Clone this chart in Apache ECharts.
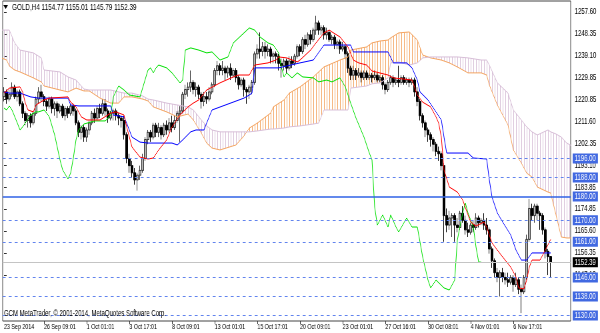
<!DOCTYPE html>
<html><head><meta charset="utf-8">
<script src="https://cdn.jsdelivr.net/npm/echarts@6/dist/echarts.min.js"></script>
<style>
html,body{margin:0;padding:0;background:#fff;overflow:hidden;}
#wrap{width:600px;height:333px;overflow:hidden;}
#chart{width:900px;height:333px;transform:scaleX(0.6666667);transform-origin:0 0;}
</style></head><body><div id="wrap"><div id="chart"></div></div>
<script>
const FONT = '"Liberation Sans", Arial, sans-serif';
const SLOTS = 213;
const tickIdx = [0,15,31,47,63,79,95,111,127,143,159,175,191];
const tickText = ['23 Sep 2014','26 Sep 09:01','1 Oct 01:01','3 Oct 17:01','8 Oct 09:01','13 Oct 01:01','15 Oct 17:01','20 Oct 09:01','23 Oct 01:01','27 Oct 16:01','30 Oct 08:01','4 Nov 01:01','6 Nov 17:01'];
const yTicks = [1257.60,1248.35,1239.10,1229.85,1220.85,1211.60,1202.35,1193.10,1183.85,1174.85,1165.60,1156.35,1147.10];
const dashedLevels = [1196,1188,1170,1161,1146,1138,1130];
const solidLevel = 1180;
const bidPrice = 1152.39;
const header = 'GOLD,H4 1154.77 1155.01 1145.79 1152.39';
const copyright = 'GCM MetaTrader, \u00a9 2001-2014, MetaQuotes Software Corp.';

// [open, close, low, high]
const ohlc = [
[1222,1224,1220,1226],[1224,1221,1219,1225],[1221,1223,1220,1225],[1223,1226,1222,1228],[1226,1222,1221,1227],
[1222,1224,1220,1225],[1224,1219,1218,1225],[1219,1215,1213,1220],[1215,1212,1210,1216],[1212,1214,1209,1215],
[1214,1211,1209,1215],[1211,1215,1210,1216],[1215,1221,1214,1222],[1221,1224,1219,1226],[1224,1222,1220,1227],
[1222,1220,1218,1223],[1220,1218,1216,1221],[1218,1221,1217,1222],[1221,1217,1215,1222],[1217,1219,1214,1220],
[1219,1216,1213,1220],[1216,1218,1215,1219],[1218,1214,1213,1219],[1214,1217,1212,1218],[1217,1215,1213,1218],
[1215,1218,1214,1219],[1218,1216,1214,1219],[1216,1211,1210,1217],[1211,1207,1205,1212],[1207,1209,1204,1210],
[1209,1205,1203,1210],[1205,1208,1203,1209],[1208,1211,1206,1212],[1211,1215,1210,1216],[1215,1213,1211,1217],
[1213,1217,1212,1218],[1217,1215,1213,1219],[1215,1219,1214,1221],[1219,1216,1214,1221],[1216,1213,1211,1217],
[1213,1215,1212,1216],[1215,1216,1212,1217],[1216,1214,1212,1217],[1214,1213,1210,1215],[1213,1212,1209,1214],
[1212,1206,1204,1214],[1206,1196,1194,1207],[1196,1193,1190,1198],[1193,1190,1188,1195],[1190,1187,1185,1192],
[1187,1189,1182.5,1190],[1189,1191,1187,1193],[1191,1196,1190,1198],[1196,1204,1195,1205],[1204,1207,1202,1208],
[1207,1205,1203,1208],[1205,1210,1204,1211],[1210,1207,1205,1211],[1207,1209,1205,1211],[1209,1206,1204,1210],
[1206,1210,1205,1211],[1210,1208,1206,1212],[1208,1211,1207,1213],[1211,1209,1207,1214],[1209,1212,1208,1214],
[1212,1215,1211,1216],[1215,1216,1203,1218],[1216,1223,1215,1224],[1223,1225,1221,1227],[1225,1226,1222,1228],
[1226,1228,1224,1233],[1228,1225,1223,1229],[1225,1226,1222,1228],[1226,1223,1221,1227],[1223,1220,1217,1224],
[1220,1222,1218,1224],[1222,1221,1219,1224],[1221,1224,1220,1226],[1224,1227,1223,1228],[1227,1233,1226,1234],
[1233,1235,1231,1237],[1235,1233,1231,1236],[1233,1234,1231,1237],[1234,1232,1229,1235],[1232,1234,1230,1235],
[1234,1231,1229,1236],[1231,1233,1230,1234],[1233,1230,1228,1234],[1230,1227,1225,1231],[1227,1229,1226,1230],
[1229,1225,1222,1230],[1225,1224,1219,1226],[1224,1226,1221,1227],[1226,1228,1223,1229],[1228,1240,1227,1241],
[1240,1242,1238,1244],[1242,1241,1238,1249],[1241,1243,1239,1245],[1243,1241,1238,1245],[1241,1242,1239,1244],
[1242,1239,1236,1243],[1239,1240,1236,1241],[1240,1239,1236,1241],[1239,1236,1233,1240],[1236,1235,1230,1238],
[1235,1237,1233,1238],[1237,1234,1232,1238],[1234,1237,1233,1239],[1237,1236,1234,1239],[1236,1239,1235,1240],
[1239,1243,1238,1244],[1243,1241,1239,1244],[1241,1246,1240,1247],[1246,1244,1242,1248],[1244,1248,1243,1249],
[1248,1246,1244,1250],[1246,1250,1245,1251],[1250,1253,1248,1256],[1253,1250,1248,1254],[1250,1251,1248,1252],
[1251,1248,1246,1252],[1248,1249,1246,1251],[1249,1246,1245,1250],[1246,1247,1244,1248],[1247,1244,1242,1248],
[1244,1245,1242,1246],[1245,1242,1240,1246],[1242,1243,1241,1245],[1243,1240,1238,1244],[1240,1234,1232,1241],
[1234,1231,1229,1235],[1231,1233,1229,1235],[1233,1231,1229,1234],[1231,1232,1230,1234],[1232,1230,1228,1233],
[1230,1232,1229,1233],[1232,1230,1229,1233],[1230,1231,1229,1232],[1231,1230,1228,1232],[1230,1231,1229,1233],
[1231,1229,1228,1232],[1229,1230,1228,1231],[1230,1227,1225,1231],[1227,1225,1223,1228],[1225,1228,1224,1229],
[1228,1230,1227,1231],[1230,1228,1226,1231],[1228,1229,1227,1230],[1229,1228,1226,1235],[1228,1230,1227,1231],
[1230,1228,1227,1231],[1228,1229,1227,1230],[1229,1228,1226,1230],[1228,1229,1227,1230],[1229,1224,1222,1230],
[1224,1220,1218,1226],[1220,1214,1212,1221],[1214,1211,1209,1215],[1211,1208,1205,1212],[1208,1206,1203,1209],
[1206,1204,1201,1207],[1204,1202,1199,1205],[1202,1199,1197,1203],[1199,1198,1195,1201],[1198,1193,1191,1199],
[1193,1172,1161,1194],[1172,1168,1165,1175],[1168,1171,1166,1174],[1171,1172,1163,1173],[1172,1168,1161,1173],
[1168,1167,1165,1171],[1167,1173,1166,1174],[1173,1170,1169,1176],[1170,1166,1164,1172],[1166,1165,1163,1169],
[1165,1168,1164,1169],[1168,1167,1165,1170],[1167,1171,1166,1173],[1171,1169,1167,1172],[1169,1170,1168,1171],
[1170,1168,1166,1173],[1168,1166,1164,1171],[1166,1158,1156,1167],[1158,1153,1150,1159],[1153,1148,1146,1154],
[1148,1146,1144,1150],[1146,1148,1138,1149],[1148,1146,1144,1150],[1146,1145,1143,1148],[1145,1144,1142,1148],
[1144,1146,1143,1147],[1146,1143,1140,1147],[1143,1145,1142,1148],[1145,1141,1139,1146],[1141,1140,1131,1143],
[1140,1146,1139,1147],[1146,1162,1145,1164],[1162,1175,1161,1179],[1175,1172,1170,1177],[1172,1176,1169,1177],
[1176,1173,1170,1177],[1173,1172,1166,1174],[1172,1166,1164,1173],[1166,1157,1154,1167],[1157,1154.77,1147,1158],
[1154.77,1152.39,1145.79,1155.01]
];

// [bar index, price]
const tenkan = [[0,1223.5],[2,1225.6],[6,1226.1],[7,1224.0],[8,1219.3],[9,1216.4],[11,1215.6],[12,1218.5],[15,1220.6],[17,1221.4],[24,1221.9],[25,1219.7],[27,1217.7],[29,1213.5],[31,1212.2],[36,1212.2],[40,1215.1],[42,1215.6],[45,1214.3],[46,1209.3],[48,1200.8],[51,1196.6],[54,1195.8],[56,1196.2],[58,1199.6],[61,1203.8],[63,1209.3],[66,1214.3],[69,1217.7],[71,1219.3],[73,1220.6],[76,1224.8],[81,1227.8],[86,1230.3],[88,1231.1],[92,1231.1],[94,1235.3],[99,1236.2],[102,1237.4],[103,1238.7],[106,1238.3],[110,1236.6],[111,1237.4],[115,1241.6],[117,1244.6],[120,1248.8],[122,1250.0],[123,1249.2],[126,1247.1],[129,1242.9],[131,1237.4],[133,1236.2],[136,1235.3],[138,1232.8],[144,1231.1],[146,1229.9],[153,1229.0],[155,1222.7],[157,1219.7],[160,1217.7],[162,1213.5],[163,1210.9],[164,1205.0],[165,1191.2],[167,1184.0],[170,1181.9],[172,1178.6],[174,1172.3],[175,1169.3],[177,1167.6],[180,1169.3],[181,1167.2],[183,1160.5],[185,1157.5],[187,1154.6],[190,1150.4],[192,1146.2],[193,1141.6],[195,1141.2],[196,1144.9],[197,1150.4],[198,1153.3],[201,1153.3],[203,1157.5],[205,1162.0]];
const kijun = [[0,1224.0],[2,1223.5],[6,1223.5],[10,1221.9],[13,1221.4],[24,1221.4],[25,1218.5],[28,1218.1],[40,1218.1],[41,1214.3],[45,1213.5],[46,1210.9],[48,1205.0],[51,1202.9],[54,1202.5],[63,1202.5],[65,1201.7],[67,1203.8],[70,1207.2],[72,1208.0],[75,1208.0],[76,1210.9],[78,1216.4],[90,1221.4],[92,1222.7],[93,1223.5],[94,1234.1],[103,1234.1],[111,1236.2],[116,1237.4],[120,1243.7],[130,1243.7],[131,1240.8],[144,1240.8],[146,1236.2],[151,1236.2],[153,1234.1],[155,1229.0],[156,1224.0],[159,1220.6],[162,1215.6],[164,1212.2],[165,1205.0],[166,1198.3],[174,1198.3],[176,1196.2],[181,1195.8],[182,1187.0],[183,1179.8],[185,1173.1],[187,1169.3],[190,1163.9],[192,1157.5],[194,1153.3],[196,1153.3],[198,1156.3],[205,1156.3]];
const chikou = [[0,1217.2],[1,1216.4],[2,1218.1],[3,1216.4],[5,1210.9],[6,1208.0],[7,1209.3],[9,1212.6],[10,1214.3],[12,1215.6],[13,1215.6],[15,1216.4],[16,1215.1],[17,1213.5],[19,1205.9],[21,1195.4],[22,1191.2],[24,1187.4],[25,1189.9],[26,1196.2],[27,1203.8],[28,1208.0],[30,1210.5],[34,1211.8],[38,1211.8],[40,1214.3],[41,1221.9],[43,1226.5],[45,1224.8],[47,1222.7],[51,1221.9],[54,1233.2],[55,1234.1],[56,1232.0],[57,1234.1],[58,1235.3],[61,1234.1],[63,1232.0],[66,1227.8],[67,1229.0],[68,1241.6],[70,1242.5],[73,1241.6],[76,1240.4],[78,1240.8],[81,1237.4],[84,1238.7],[86,1244.6],[90,1248.8],[92,1250.9],[94,1250.0],[96,1247.1],[99,1244.6],[101,1243.7],[103,1240.4],[104,1234.5],[105,1230.3],[106,1232.0],[108,1229.9],[110,1232.0],[112,1230.3],[116,1229.9],[118,1228.2],[121,1229.0],[123,1228.2],[126,1229.9],[128,1226.1],[130,1219.3],[132,1213.0],[135,1205.0],[137,1198.3],[138,1195.4],[139,1175.6],[140,1168.0],[142,1172.3],[144,1167.2],[145,1172.3],[147,1167.2],[148,1165.1],[151,1171.0],[153,1167.2],[155,1167.2],[157,1154.6],[159,1144.9],[160,1141.6],[162,1144.9],[165,1141.6],[167,1140.7],[169,1144.9],[170,1161.7],[172,1173.1],[173,1177.3],[174,1173.1],[176,1167.2],[177,1158.8],[178,1152.5],[179,1152.4]];

const cloudIdx = [-1,1,2,4,6,11,14,15,21,24,27,30,32,36,40,43,45,48,52,54,56,61,65,69,71,74,76,78,81,87,90,92,95,100,101,105,107,111,116,118,120,126,129,130,136,138,141,144,145,148,152,155,157,160,164,167,170,174,179,181,182,185,189,191,194,196,198,200,204,205,207,209,211,213];
const senkouA = [1238.3,1237.4,1234.9,1233.2,1232.4,1229.9,1228.2,1226.5,1224.8,1224.0,1225.6,1224.4,1224.4,1221.4,1219.3,1219.3,1221.9,1221.9,1221.0,1220.2,1217.7,1215.6,1213.5,1214.7,1212.2,1206.7,1202.5,1200.4,1199.6,1201.7,1205.5,1208.8,1210.9,1215.1,1217.7,1220.6,1223.5,1226.1,1230.3,1232.4,1234.5,1237.4,1238.7,1241.6,1242.9,1244.6,1245.4,1245.8,1246.7,1248.8,1249.2,1245.8,1239.5,1238.3,1237.4,1236.2,1234.5,1232.0,1232.0,1231.1,1226.9,1218.5,1210.1,1199.6,1194.1,1189.9,1188.2,1184.0,1181.9,1181.5,1172.3,1163.0,1162.6,1162.6];
const senkouB = [1250.0,1250.0,1250.0,1244.6,1241.6,1240.4,1238.3,1233.2,1232.4,1230.3,1229.0,1225.2,1224.8,1224.8,1224.8,1224.0,1223.5,1223.5,1222.3,1221.0,1220.6,1219.3,1218.5,1217.7,1216.4,1212.2,1209.7,1208.0,1207.2,1207.2,1207.2,1207.2,1207.6,1208.4,1208.4,1208.8,1209.3,1209.7,1210.5,1210.9,1216.4,1216.4,1216.4,1225.6,1226.5,1227.4,1227.8,1229.9,1236.2,1236.6,1235.3,1236.2,1238.3,1238.7,1238.7,1238.7,1238.7,1238.3,1237.4,1237.4,1235.3,1227.8,1223.5,1216.4,1212.2,1209.3,1207.2,1205.9,1208.0,1207.2,1206.3,1205.0,1202.5,1201.3];

const cats = Array.from({length: SLOTS}, (_, i) => String(i));
const labelMap = {};
tickIdx.forEach((ix, k) => { labelMap[ix] = tickText[k]; });

function makePattern(color) {
  const c = document.createElement('canvas');
  c.width = 4; c.height = 2;
  const g = c.getContext('2d');
  g.fillStyle = color;
  g.fillRect(2, 0, 1, 2);
  return { image: c, repeat: 'repeat' };
}
const patA = makePattern('#F4A460');
const patB = makePattern('#D8BFD8');

function renderCloud(params, api) {
  const k = params.dataIndex;
  if (k >= cloudIdx.length - 1) return null;
  const x0 = cloudIdx[k], x1 = cloudIdx[k + 1];
  const a0 = senkouA[k], a1 = senkouA[k + 1], b0 = senkouB[k], b1 = senkouB[k + 1];
  const d0 = a0 - b0, d1 = a1 - b1;
  const c = (x, v) => api.coord([x, v]);
  const mk = (pts, up) => ({ type: 'polygon', shape: { points: pts }, style: { fill: up ? patA : patB, stroke: null }, silent: true });
  const children = [];
  if (d0 * d1 >= 0) {
    children.push(mk([c(x0, a0), c(x1, a1), c(x1, b1), c(x0, b0)], (d0 + d1) >= 0));
  } else {
    const t = d0 / (d0 - d1);
    const xc = x0 + t * (x1 - x0), vc = a0 + t * (a1 - a0);
    children.push(mk([c(x0, a0), c(xc, vc), c(x0, b0)], d0 > 0));
    children.push(mk([c(xc, vc), c(x1, a1), c(x1, b1)], d1 > 0));
  }
  return { type: 'group', children };
}

const lvlLabel = (bg) => ({
  show: true, position: 'end', distance: 3, formatter: p => Number(p.value).toFixed(2),
  color: '#fff', backgroundColor: bg, padding: [1, 3, 0, 3], fontSize: 9, lineHeight: 9, fontFamily: FONT
});
const markData = dashedLevels.map(v => ({ yAxis: v, lineStyle: { color: '#6284ee', type: [4.5, 4.5], width: 1 }, label: lvlLabel('#4169E1') }));
markData.push({ yAxis: solidLevel, lineStyle: { color: '#2f62e6', type: 'solid', width: 1.6 }, label: lvlLabel('#4169E1') });
markData.push({ yAxis: bidPrice, lineStyle: { color: '#c4c4c4', type: 'solid', width: 1 }, label: lvlLabel('#000') });

const lineS = (name, data, color) => ({
  name, type: 'line', xAxisIndex: 1, yAxisIndex: 0, data, symbol: 'none', z: 4,
  lineStyle: { color, width: 1 }, silent: true, clip: true
});

const chart = echarts.init(document.getElementById('chart'), null, { renderer: 'canvas' });
chart.setOption({
  animation: false,
  backgroundColor: '#fff',
  textStyle: { fontFamily: FONT },
  grid: { left: 4, right: 44, top: 1, bottom: 12, show: true, borderColor: '#444', borderWidth: 1 },
  xAxis: [
    {
      type: 'category', data: cats, boundaryGap: true,
      axisLine: { show: false },
      axisTick: { show: true, alignWithLabel: true, interval: (i) => labelMap[i] !== undefined && i > 0, length: 3, lineStyle: { color: '#333' } },
      axisLabel: { show: true, interval: (i) => labelMap[i] !== undefined, formatter: (v, i) => labelMap[i] || '', align: 'left', fontSize: 8, color: '#000', margin: 2, fontFamily: FONT },
      splitLine: { show: false }
    },
    { type: 'value', min: -0.5, max: SLOTS - 0.5, show: false }
  ],
  yAxis: {
    type: 'value', position: 'right', min: 1127.69, max: 1262.22,
    axisLine: { show: false }, splitLine: { show: false },
    axisTick: { show: true, customValues: yTicks, length: 4, lineStyle: { color: '#333' } },
    axisLabel: { customValues: yTicks, formatter: v => Number(v).toFixed(2), fontSize: 9, color: '#000', margin: 6, fontFamily: FONT }
  },
  graphic: [
    { type: 'polygon', shape: { points: [[5, 5], [12, 5], [8.5, 9]] }, style: { fill: '#000' } },
    { type: 'text', x: 18, y: 7, style: { text: header, font: '9.5px ' + FONT, fill: '#000', verticalAlign: 'middle' } },
    { type: 'text', x: 6, y: 314, z: 10, style: { text: copyright, font: '9px ' + FONT, fill: '#000', verticalAlign: 'middle' } }
  ],
  series: [
    {
      name: 'cloud', type: 'custom', xAxisIndex: 1, yAxisIndex: 0, renderItem: renderCloud, clip: true, z: 1, silent: true,
      data: cloudIdx.map((x, k) => [x, senkouA[k], senkouB[k]]), encode: { x: 0, y: [1, 2] }
    },
    {
      name: 'GOLD', type: 'candlestick', xAxisIndex: 0, yAxisIndex: 0, z: 3, barWidth: 3, silent: true,
      data: ohlc,
      itemStyle: { color: '#b4b4b4', color0: '#000', borderColor: '#333', borderColor0: '#000', borderWidth: 1 },
      markLine: { symbol: 'none', silent: true, animation: false, data: markData }
    },
    lineS('senkouA', cloudIdx.map((x, k) => [x, senkouA[k]]), '#F4A460'),
    lineS('senkouB', cloudIdx.map((x, k) => [x, senkouB[k]]), '#D8BFD8'),
    lineS('chikou', chikou, '#00e000'),
    lineS('kijun', kijun, '#0000ff'),
    lineS('tenkan', tenkan, '#ff0000')
  ]
});
</script></body></html>
